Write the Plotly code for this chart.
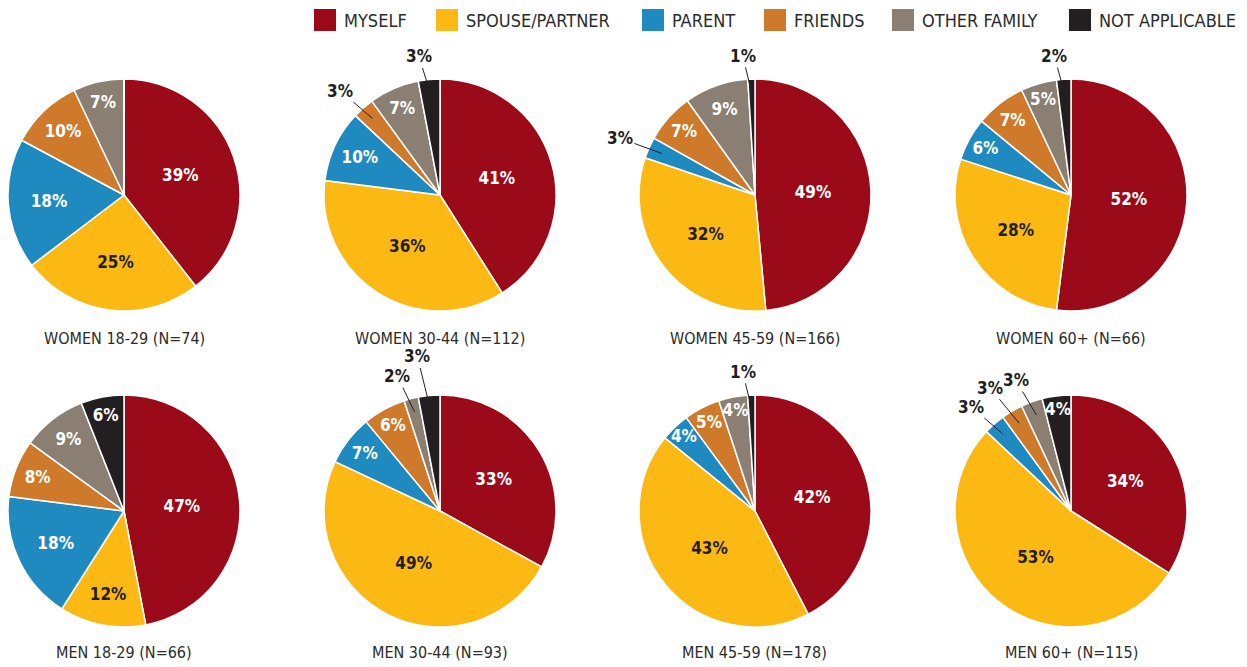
import math
import plotly.graph_objects as go

W, H = 1247, 667

categories = ["MYSELF", "SPOUSE/PARTNER", "PARENT", "FRIENDS", "OTHER FAMILY", "NOT APPLICABLE"]
colors = ["#9B0A19", "#FDB913", "#1F8AC0", "#CE7A2A", "#8A7F72", "#231F20"]
text_colors = ["#FFFFFF", "#231F20", "#FFFFFF", "#FFFFFF", "#FFFFFF", "#FFFFFF"]

groups = ["WOMEN 18-29 (N=74)", "WOMEN 30-44 (N=112)", "WOMEN 45-59 (N=166)", "WOMEN 60+ (N=66)",
          "MEN 18-29 (N=66)", "MEN 30-44 (N=93)", "MEN 45-59 (N=178)", "MEN 60+ (N=115)"]

women_18_29 = [39, 25, 18, 10, 7, 0]
women_30_44 = [41, 36, 10, 3, 7, 3]
women_45_59 = [49, 32, 3, 7, 9, 1]
women_60p = [52, 28, 6, 7, 5, 2]
men_18_29 = [47, 12, 18, 8, 9, 6]
men_30_44 = [33, 49, 7, 6, 2, 3]
men_45_59 = [42, 43, 4, 5, 4, 1]
men_60p = [34, 53, 3, 3, 3, 4]

series = [women_18_29, women_30_44, women_45_59, women_60p,
          men_18_29, men_30_44, men_45_59, men_60p]

FONT = "DejaVu Sans Condensed, Liberation Sans Narrow, Arial Narrow, sans-serif"
DARK = "#231F20"
TXT = "#2B2B2B"

# layout constants (page pixels)
col_cx = [124, 440, 755, 1071]
row_cy = [195, 511]
R = 116
title_y = [338, 652]
legend_x = [314, 436, 642, 764, 892, 1069]
legend_y0, legend_sq = 9, 22


def X(px):
    return px / W


def Y(py):
    return 1 - py / H


fig = go.Figure()
annotations = []
shapes = []

for i, (name, vals) in enumerate(zip(groups, series)):
    r, c = divmod(i, 4)
    cx, cy = col_cx[c], row_cy[r]
    fig.add_trace(go.Pie(
        labels=categories, values=vals, name=name,
        domain=dict(x=[X(cx - R), X(cx + R)], y=[Y(cy + R), Y(cy - R)]),
        sort=False, direction="clockwise", rotation=0,
        marker=dict(colors=colors, line=dict(color="#FFFFFF", width=1.5)),
        texttemplate="%{value}%", textposition=["inside" if v > 3 else "none" for v in vals],
        insidetextorientation="horizontal",
        textfont=dict(family=FONT, size=17, color=text_colors, weight="bold"),
        hoverinfo="label+value", showlegend=False,
    ))
    # outside labels for small slices, pushed apart if they collide
    total = sum(vals)
    cum = 0
    placed = []
    for k, v in enumerate(vals):
        if 0 < v <= 3:
            th = (cum + v / 2) / total * 2 * math.pi
            s, co = math.sin(th), math.cos(th)
            rl = 1.2 * R
            while True:
                tx = cx + rl * s + (-8 if s < 0 else 8)
                ty = cy - rl * co
                if all(abs(tx - a) >= 25 or abs(ty - b) >= 18 for a, b in placed):
                    break
                rl += 2
            placed.append((tx, ty))
            px = cx + 0.88 * R * s
            py = cy - 0.88 * R * co
            annotations.append(dict(
                x=X(px), y=Y(py), xref="paper", yref="paper",
                ax=tx - px, ay=ty - py, axref="pixel", ayref="pixel",
                text=f"{v}%", showarrow=True, arrowhead=0, arrowwidth=1,
                arrowcolor=DARK, standoff=0,
                font=dict(family=FONT, size=17, color=DARK, weight="bold"),
            ))
        cum += v
    annotations.append(dict(
        x=X(cx), y=Y(title_y[r]), xref="paper", yref="paper",
        text=name, showarrow=False, xanchor="center", yanchor="middle",
        font=dict(family=FONT, size=16, color=TXT),
    ))

# custom legend
for lx, cat, col in zip(legend_x, categories, colors):
    shapes.append(dict(type="rect", xref="paper", yref="paper",
                       x0=X(lx), x1=X(lx + legend_sq), y0=Y(legend_y0 + legend_sq), y1=Y(legend_y0),
                       fillcolor=col, line=dict(width=0)))
    annotations.append(dict(
        x=X(lx + legend_sq + 6), y=Y(legend_y0 + legend_sq / 2), xref="paper", yref="paper",
        text=cat, showarrow=False, xanchor="left", yanchor="middle",
        font=dict(family=FONT, size=18, color=TXT),
    ))

fig.update_layout(
    width=W, height=H,
    margin=dict(l=0, r=0, t=0, b=0),
    paper_bgcolor="#FFFFFF", plot_bgcolor="#FFFFFF",
    annotations=annotations, shapes=shapes,
    uniformtext=dict(minsize=17, mode="show"),
    showlegend=False,
)

fig.write_html("out.html", config={"displayModeBar": False},
               post_script="document.body.style.margin='0';document.body.style.overflow='hidden';")
